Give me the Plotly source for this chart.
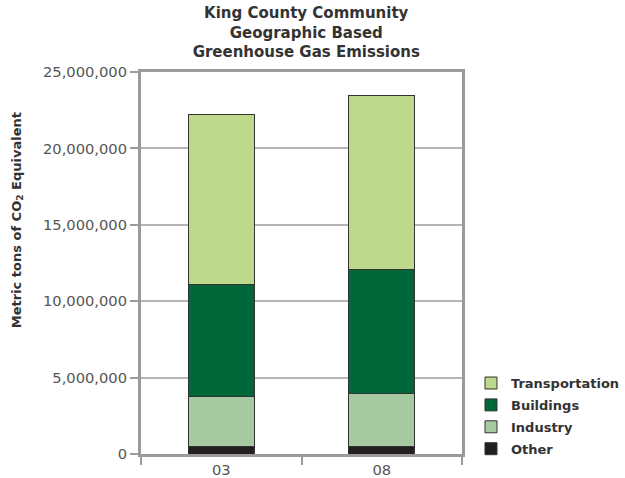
import plotly.graph_objects as go

years = ["03", "08"]
other = [510000, 470000]
industry = [3250000, 3470000]
buildings = [7310000, 8130000]
transportation = [11130000, 11370000]

series = [
    ("Other", other, "#231F20", 4),
    ("Industry", industry, "#A6C9A2", 3),
    ("Buildings", buildings, "#006838", 2),
    ("Transportation", transportation, "#BDD98B", 1),
]

fig = go.Figure()
for name, vals, color, rank in series:
    fig.add_trace(go.Bar(
        x=years, y=vals, name=name, legendgroup=name, legendrank=rank,
        marker=dict(color=color, line=dict(color="#333333", width=1)),
        width=0.41,
    ))

fig.update_layout(
    barmode="stack",
    width=625, height=478,
    margin=dict(l=141, r=163, t=72, b=24, autoexpand=False),
    plot_bgcolor="white", paper_bgcolor="white",
    font=dict(family="DejaVu Sans", color="#555555", size=13),
    title=dict(
        text="King County Community<br>Geographic Based<br>Greenhouse Gas Emissions",
        x=0.49, xanchor="center", y=0.962, yanchor="middle",
        font=dict(family="DejaVu Sans", size=15, color="#333333", weight="bold"),
    ),
    legend=dict(
        traceorder="grouped", x=1.028, xanchor="left", y=0.225, yanchor="top",
        font=dict(family="DejaVu Sans", size=13, color="#333333", weight="bold"),
        itemwidth=30, tracegroupgap=2, bgcolor="rgba(0,0,0,0)",
    ),
    showlegend=True,
    annotations=[dict(
        text="Metric tons of CO<sub>2</sub> Equivalent",
        xref="paper", yref="paper", x=-0.385, y=0.613,
        xanchor="center", yanchor="middle", textangle=-90, showarrow=False,
        font=dict(family="DejaVu Sans", size=13, color="#333333", weight="bold"),
    )],
)

fig.update_yaxes(
    range=[0, 25000000], dtick=5000000, tickformat=",d",
    showgrid=True, gridcolor="#B5B5B5", gridwidth=1.5,
    showline=True, linecolor="#9A9A9A", linewidth=3, mirror=True,
    ticks="outside", ticklen=8, tickcolor="#9A9A9A", tickwidth=1.5,
    zeroline=False, automargin=False,
    tickfont=dict(family="DejaVu Sans", size=14.7, color="#555555"),
)
fig.update_xaxes(
    type="category", range=[-0.5, 1.5],
    showline=True, linecolor="#9A9A9A", linewidth=3, mirror=True,
    ticks="outside", tickson="boundaries", ticklen=8, tickcolor="#9A9A9A", tickwidth=1.5,
    showgrid=False, automargin=False,
    tickfont=dict(family="DejaVu Sans", size=14.7, color="#555555"),
)

fig.write_html("out.html", config={"displayModeBar": False},
               post_script="document.body.style.margin='0';")
